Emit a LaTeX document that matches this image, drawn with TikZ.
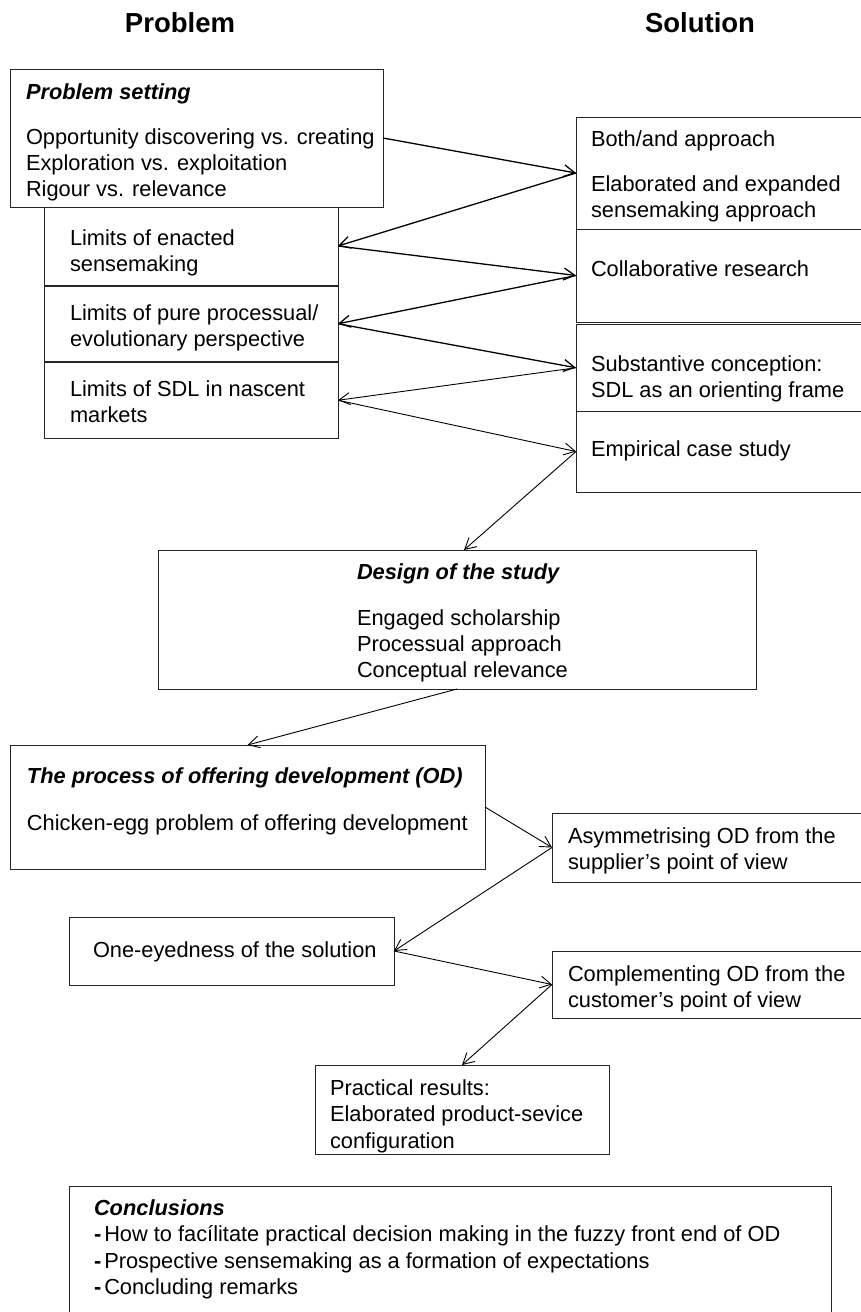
\documentclass[tikz,border=0pt]{standalone}
\usepackage{fontspec}
\setmainfont{Liberation Sans}
\usetikzlibrary{arrows.meta}

\tikzset{
  box/.style={draw=black!85, line width=1pt, inner sep=0pt, outer sep=0pt},
  txt/.style={anchor=north west, inner sep=0pt, outer sep=0pt, align=left,
              font=\fontsize{21.8}{26}\selectfont},
  head/.style={anchor=base, inner sep=0pt, font=\fontsize{27.5}{32}\selectfont\bfseries},
  arr/.style={-{Straight Barb[length=11pt,width=12pt]}, line width=0.9pt},
  arrthick/.style={arr, line width=1.3pt},
}

% box from (x1,y1) to (x2,y2), y measured downwards
\newcommand\mkbox[5]{\node[box, minimum width={#4-#2}, minimum height={#5-#3}] (#1) at ({(#2+#4)/2},{(#3+#5)/2}) {};}
% text block whose first baseline lies at y = #3
\newcommand\mktext[4]{\node[txt] (#1) at (#2,{#3-15.7}) {#4};}
\newcommand\ttl[1]{{\bfseries\itshape #1}}
\newcommand\dashitem{{\bfseries -}\hspace{3pt}}

\begin{document}
\begin{tikzpicture}[x=1pt, y=-1pt]
  \useasboundingbox (0,0) rectangle (861,1312);

  % column headings
  \node[head] (hprob) at (180,32) {Problem};
  \node[head] (hsol)  at (700,32) {Solution};

  % problem column, top part
  \mkbox{ps}{10}{69}{383}{207}
  \mkbox{lb1}{44}{207}{338}{285}
  \mkbox{lb2}{44}{286.5}{338}{361}
  \mkbox{lb3}{44}{362.5}{338}{438}

  % solution column, top part
  \mkbox{rb1}{576}{117}{866}{229}
  \mkbox{rb2}{576}{229}{866}{322}
  \mkbox{rb3}{576}{324.5}{866}{411}
  \mkbox{rb4}{576}{411}{866}{492}

  % study design and the process part
  \mkbox{design}{158}{550}{756}{689}
  \mkbox{pod}{10}{745}{485}{869}
  \mkbox{asym}{552}{813}{866}{882}
  \mkbox{one}{69}{917}{394}{985}
  \mkbox{comp}{552}{951}{866}{1018}
  \mkbox{prac}{315}{1065}{609}{1154}
  \mkbox{conc}{69}{1186}{831}{1320}

  % texts
  \mktext{tps}{26}{99}{\ttl{Problem setting}\\[19pt]
    Opportunity discovering vs. creating\\
    Exploration vs. exploitation\\
    Rigour vs. relevance}
  \mktext{tlb1}{70}{245}{Limits of enacted\\ sensemaking}
  \mktext{tlb2}{70}{320}{Limits of pure processual/\\ evolutionary perspective}
  \mktext{tlb3}{70}{396}{Limits of SDL in nascent\\ markets}

  \mktext{trb1}{591}{146}{Both/and approach\\[19pt]
    Elaborated and expanded\\ sensemaking approach}
  \mktext{trb2}{591}{276}{Collaborative research}
  \mktext{trb3}{591}{371}{Substantive conception:\\ SDL as an orienting frame}
  \mktext{trb4}{591}{456}{Empirical case study}

  \mktext{tdesign}{357}{579}{\ttl{Design of the study}\\[20pt]
    Engaged scholarship\\ Processual approach\\ Conceptual relevance}
  \mktext{tpod}{27}{783}{\ttl{The process of offering development (OD)}\\[21pt]
    Chicken-egg problem of offering development}
  \mktext{tasym}{568}{843}{Asymmetrising OD from the\\ supplier’s point of view}
  \mktext{tone}{93}{957}{One-eyedness of the solution}
  \mktext{tcomp}{568}{981}{Complementing OD from the\\ customer’s point of view}
  \mktext{tprac}{330}{1095}{Practical results:\\[0.5pt]
    Elaborated product-sevice\\[0.5pt] configuration}
  \mktext{tconc}{94}{1215}{\ttl{Conclusions}\\[0.5pt]
    \dashitem How to facílitate practical decision making in the fuzzy front end of OD\\[0.5pt]
    \dashitem Prospective sensemaking as a formation of expectations\\[0.5pt]
    \dashitem Concluding remarks}

  % connectors zig-zagging between the two columns
  \draw[arrthick] (ps.east)  -- (rb1.west);
  \draw[arrthick] (rb1.west) -- (lb1.east);
  \draw[arrthick] (lb1.east) -- (rb2.west);
  \draw[arrthick] (rb2.west) -- (lb2.east);
  \draw[arrthick] (lb2.east) -- (rb3.west);
  \draw[arr] (rb3.west) -- (lb3.east);
  \draw[arr] (lb3.east) -- (rb4.west);
  \draw[arr] (rb4.west) -- ([xshift=7pt]design.north);
  \draw[arr] (design.south) -- (pod.north);
  \draw[arr] (pod.east) -- (asym.west);
  \draw[arr] (asym.west) -- (one.east);
  \draw[arr] (one.east) -- (comp.west);
  \draw[arr] (comp.west) -- (prac.north);
\end{tikzpicture}
\end{document}
